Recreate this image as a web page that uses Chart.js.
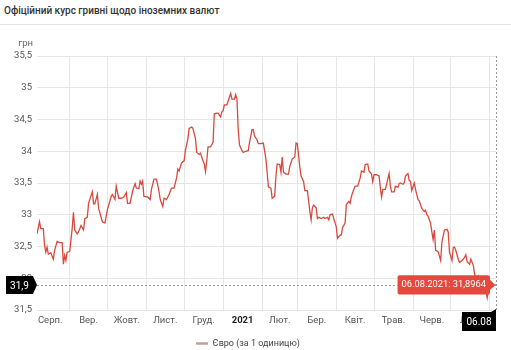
<!DOCTYPE html>
<html lang="uk">
<head>
<meta charset="utf-8">
<script src="https://cdn.jsdelivr.net/npm/chart.js@4.4.1/dist/chart.umd.min.js"></script>
<style>
  body { margin: 0; background: #fff; font-family: Roboto, sans-serif; }
  #titulo {
    height: 25px; box-sizing: border-box; padding: 5px 0 0 4px;
    font-size: 10px; font-weight: 500; color: #333;
    border-bottom: 1px solid #e2e2e2;
  }
  #titulo + div { width: 511px; height: 324px; }
</style>
</head>
<body>
<div id="titulo">Офіційний курс гривні щодо іноземних валют</div>
<div><canvas id="graficoEuro" width="511" height="324"></canvas></div>
<script>
// дати та курс євро (грн за 1 одиницю)
const datas = [
  '2020-08-06','2020-08-08','2020-08-09','2020-08-11','2020-08-12','2020-08-13','2020-08-14','2020-08-15','2020-08-17','2020-08-19','2020-08-20','2020-08-22','2020-08-24','2020-08-26','2020-08-27','2020-08-28','2020-08-29','2020-08-30',
  '2020-09-01','2020-09-03','2020-09-04','2020-09-05','2020-09-07','2020-09-08','2020-09-10','2020-09-12','2020-09-13','2020-09-15','2020-09-16','2020-09-19','2020-09-20','2020-09-21','2020-09-23','2020-09-24','2020-09-27','2020-09-29',
  '2020-10-01','2020-10-04','2020-10-05','2020-10-07','2020-10-08','2020-10-10','2020-10-12','2020-10-14','2020-10-16','2020-10-17','2020-10-19','2020-10-21','2020-10-23','2020-10-24','2020-10-26','2020-10-27','2020-10-28','2020-10-29','2020-10-30',
  '2020-11-02','2020-11-04','2020-11-05','2020-11-07','2020-11-09','2020-11-11','2020-11-12','2020-11-14','2020-11-15','2020-11-17','2020-11-19','2020-11-20','2020-11-21','2020-11-23','2020-11-25','2020-11-26','2020-11-27','2020-11-29',
  '2020-12-01','2020-12-02','2020-12-04','2020-12-05','2020-12-07','2020-12-08','2020-12-10','2020-12-11','2020-12-13','2020-12-14','2020-12-16','2020-12-17','2020-12-18','2020-12-19','2020-12-20','2020-12-22','2020-12-24','2020-12-25','2020-12-27','2020-12-28','2020-12-30','2020-12-31',
  '2021-01-01','2021-01-02','2021-01-04','2021-01-07','2021-01-08','2021-01-10','2021-01-11','2021-01-12','2021-01-13','2021-01-14','2021-01-16','2021-01-17','2021-01-19','2021-01-21','2021-01-22','2021-01-24','2021-01-25','2021-01-26','2021-01-28','2021-01-29','2021-01-31',
  '2021-02-02','2021-02-04','2021-02-05','2021-02-06','2021-02-08','2021-02-09','2021-02-11','2021-02-12','2021-02-13','2021-02-15','2021-02-16','2021-02-17','2021-02-18','2021-02-20','2021-02-22','2021-02-23','2021-02-25','2021-02-27','2021-02-28',
  '2021-03-01','2021-03-03','2021-03-04','2021-03-06','2021-03-07','2021-03-09','2021-03-11','2021-03-12','2021-03-13','2021-03-14','2021-03-16','2021-03-17','2021-03-18','2021-03-20','2021-03-22','2021-03-23','2021-03-25','2021-03-26','2021-03-27','2021-03-29','2021-03-30',
  '2021-04-01','2021-04-02','2021-04-04','2021-04-05','2021-04-06','2021-04-08','2021-04-09','2021-04-11','2021-04-12','2021-04-13','2021-04-15','2021-04-16','2021-04-18','2021-04-20','2021-04-21','2021-04-23','2021-04-24','2021-04-26','2021-04-27','2021-04-29','2021-04-30',
  '2021-05-01','2021-05-03','2021-05-05','2021-05-06','2021-05-07','2021-05-08','2021-05-10','2021-05-11','2021-05-13','2021-05-14','2021-05-15','2021-05-17','2021-05-18','2021-05-20','2021-05-21','2021-05-22','2021-05-24','2021-05-25','2021-05-26','2021-05-28','2021-05-29','2021-05-30','2021-05-31',
  '2021-06-02','2021-06-03','2021-06-05','2021-06-06','2021-06-08','2021-06-10','2021-06-11','2021-06-12','2021-06-13','2021-06-15','2021-06-16','2021-06-17','2021-06-18','2021-06-19','2021-06-21','2021-06-23','2021-06-24','2021-06-26','2021-06-28','2021-06-29','2021-06-30',
  '2021-07-02','2021-07-03','2021-07-04','2021-07-05','2021-07-07','2021-07-08','2021-07-10','2021-07-12','2021-07-13','2021-07-14','2021-07-16','2021-07-17','2021-07-19','2021-07-20','2021-07-22','2021-07-23','2021-07-24','2021-07-26','2021-07-27','2021-07-29','2021-07-30','2021-07-31',
  '2021-08-02','2021-08-04','2021-08-06'
];

const euro = [
  32.70, 32.89, 32.78, 32.78, 32.52, 32.41, 32.49, 32.38, 32.40, 32.30, 32.44, 32.58, 32.56, 32.56, 32.22, 32.36, 32.28, 32.41,
  32.42, 32.79, 33.04, 32.76, 32.70, 32.73, 32.83, 32.76, 32.94, 32.96, 33.18, 33.36, 33.17, 33.17, 33.32, 33.10, 32.89, 32.87,
  33.08, 33.29, 33.32, 33.24, 33.45, 33.26, 33.26, 33.28, 33.35, 33.18, 33.18, 33.37, 33.49, 33.42, 33.41, 33.53, 33.48, 33.53, 33.29,
  33.28, 33.24, 33.40, 33.56, 33.56, 33.37, 33.24, 33.13, 33.26, 33.24, 33.32, 33.37, 33.42, 33.42, 33.58, 33.72, 33.69, 33.82,
  33.85, 34.01, 34.20, 34.36, 34.38, 34.36, 34.20, 33.98, 33.95, 33.97, 33.85, 33.80, 33.68, 33.85, 34.07, 34.07, 34.14, 34.59, 34.60, 34.60, 34.54, 34.62,
  34.64, 34.73, 34.73, 34.91, 34.82, 34.82, 34.89, 34.82, 34.35, 34.10, 34.01, 33.98, 34.00, 34.01, 34.14, 34.34, 34.34, 34.24, 34.18, 34.12, 34.12,
  34.13, 33.88, 33.67, 33.44, 33.42, 33.26, 33.29, 33.61, 33.80, 33.79, 33.67, 33.91, 33.67, 33.64, 33.64, 33.76, 33.88, 33.91, 34.13,
  34.12, 33.75, 33.61, 33.52, 33.38, 33.38, 33.05, 32.92, 33.11, 33.15, 33.11, 32.94, 32.96, 32.94, 32.96, 32.94, 32.96, 32.92, 33.00, 33.01, 32.94,
  32.81, 32.63, 32.68, 32.68, 32.80, 32.87, 33.16, 33.21, 33.18, 33.29, 33.40, 33.45, 33.45, 33.58, 33.69, 33.67, 33.79, 33.80, 33.69, 33.64, 33.52,
  33.63, 33.63, 33.61, 33.43, 33.28, 33.40, 33.40, 33.48, 33.65, 33.45, 33.36, 33.36, 33.45, 33.43, 33.49, 33.50, 33.48, 33.50, 33.61, 33.65, 33.54, 33.53, 33.38,
  33.50, 33.40, 33.24, 33.22, 33.10, 33.05, 33.07, 33.00, 32.98, 32.86, 32.73, 32.61, 32.76, 32.44, 32.42, 32.28, 32.57, 32.76, 32.77, 32.73, 32.41,
  32.28, 32.48, 32.49, 32.44, 32.30, 32.25, 32.28, 32.33, 32.37, 32.26, 32.22, 32.30, 32.20, 32.06, 32.01, 32.04, 31.98, 31.97, 31.95, 31.80, 31.69, 31.80,
  31.85, 31.88, 31.8964
];

// підписи місяців, починаючи з серпня 2020
const meses = ['Серп.', 'Вер.', 'Жовт.', 'Лист.', 'Груд.', '2021', 'Лют.', 'Бер.', 'Квіт.', 'Трав.', 'Черв.', 'Лип.'];

const yMin = 31.5, yMax = 35.5, yPasso = 0.5;

Chart.defaults.font.family = 'Roboto, sans-serif';

function dias(data) {
    return Date.UTC(+data.slice(0, 4), +data.slice(5, 7) - 1, +data.slice(8, 10)) / 864e5;
}

function virgula(valor) {
    return String(valor).replace('.', ',');
}

const pontos = datas.map((d, i) => ({ x: dias(d), y: euro[i] }));
const inicio = pontos[0].x;
const fim = pontos[pontos.length - 1].x;
const ultimo = pontos[pontos.length - 1];
const dataFinal = datas[datas.length - 1].split('-').reverse().join('.');

// лінії сітки на початку кожного місяця, підписи посередині
const linhasMes = [];
const rotulos = {};
meses.forEach((nome, i) => {
    const a = Date.UTC(2020, 7 + i, 1) / 864e5;
    const b = Date.UTC(2020, 8 + i, 1) / 864e5;
    if (b <= fim) linhasMes.push(b);
    rotulos[(a + b) / 2] = nome;
});

const rotuloDe = c => (c.tick ? rotulos[c.tick.value] : undefined);

const cursor = {
    id: 'cursor',
    afterDatasetsDraw(chart) {
        const { ctx, chartArea: a, scales: { x, y } } = chart;
        const px = Math.round(x.getPixelForValue(ultimo.x));
        const py = Math.round(y.getPixelForValue(ultimo.y));
        ctx.save();

        ctx.strokeStyle = '#9a9a9a';
        ctx.lineWidth = 1;
        ctx.setLineDash([2, 2]);
        ctx.beginPath();
        ctx.moveTo(a.left, py + 0.5);
        ctx.lineTo(px, py + 0.5);
        ctx.moveTo(px + 0.5, a.top);
        ctx.lineTo(px + 0.5, a.bottom);
        ctx.stroke();
        ctx.setLineDash([]);

        ctx.fillStyle = '#000';
        ctx.beginPath();
        ctx.moveTo(6, py - 9);
        ctx.lineTo(a.left - 4, py - 9);
        ctx.lineTo(a.left, py);
        ctx.lineTo(a.left - 4, py + 9);
        ctx.lineTo(6, py + 9);
        ctx.closePath();
        ctx.fill();

        const topo = a.bottom + 2;
        ctx.beginPath();
        ctx.moveTo(px - 34, topo);
        ctx.lineTo(px - 5, topo);
        ctx.lineTo(px, topo - 3);
        ctx.lineTo(px, topo + 19);
        ctx.lineTo(px - 34, topo + 19);
        ctx.closePath();
        ctx.fill();

        ctx.fillStyle = '#fff';
        ctx.font = '10px Roboto, sans-serif';
        ctx.textAlign = 'center';
        ctx.textBaseline = 'middle';
        ctx.fillText(virgula(ultimo.y.toFixed(1)), 6 + (a.left - 10) / 2, py + 1);
        ctx.fillText(dataFinal.slice(0, 5), px - 17, topo + 10);

        ctx.fillStyle = '#666';
        ctx.font = '9.5px Roboto, sans-serif';
        ctx.textAlign = 'right';
        ctx.fillText('грн', a.left - 4, a.top - 12);
        ctx.restore();
    }
};

const graficoEuro = new Chart(document.querySelector('#graficoEuro'), {
    type: 'line',
    data: {
        datasets: [
            {
                label: 'Євро (за 1 одиницю)',
                data: pontos,
                borderColor: '#d9483d',
                borderWidth: 1.3,
                pointRadius: 0,
                pointHoverRadius: 0,
                tension: 0
            }
        ]
    },
    options: {
        responsive: false,
        animation: false,
        events: [],
        layout: { padding: { top: 31, right: 15, left: 0, bottom: -9 } },
        scales: {
            x: {
                type: 'linear',
                min: inicio,
                max: fim,
                afterBuildTicks: s => {
                    s.ticks = linhasMes.concat(Object.keys(rotulos).map(Number))
                        .sort((p, q) => p - q)
                        .map(v => ({ value: v }));
                },
                afterFit: s => { s.height = 27; },
                grid: {
                    color: c => (c.tick && linhasMes.includes(c.tick.value)) ? '#e6e6e6' : 'transparent',
                    drawTicks: false
                },
                border: { display: false },
                ticks: {
                    autoSkip: false,
                    maxRotation: 0,
                    padding: 5,
                    color: c => rotuloDe(c) === '2021' ? '#222' : '#555',
                    font: c => ({ size: 9.5, weight: rotuloDe(c) === '2021' ? 'bold' : 'normal' }),
                    callback: v => rotulos[v] || ''
                }
            },
            y: {
                min: yMin,
                max: yMax,
                afterFit: s => { s.width = 37; },
                grid: { color: '#e6e6e6', drawTicks: false },
                border: { display: false },
                ticks: {
                    stepSize: yPasso,
                    padding: 5,
                    color: '#555',
                    font: { size: 9.5 },
                    callback: v => virgula(v)
                }
            }
        },
        plugins: {
            legend: {
                position: 'bottom',
                labels: {
                    padding: 2,
                    color: '#444',
                    font: { size: 9 },
                    usePointStyle: true,
                    pointStyleWidth: 12,
                    generateLabels: chart => chart.data.datasets.map((ds, i) => ({
                        text: ds.label,
                        strokeStyle: '#c79c9c',
                        fillStyle: '#c79c9c',
                        lineWidth: 2.5,
                        pointStyle: 'line',
                        fontColor: '#444',
                        hidden: false,
                        datasetIndex: i
                    }))
                }
            },
            tooltip: {
                backgroundColor: '#e5493e',
                bodyColor: '#fff',
                bodyFont: { size: 9.3 },
                displayColors: false,
                xAlign: 'right',
                yAlign: 'center',
                caretSize: 5,
                caretPadding: 1,
                cornerRadius: 2,
                padding: { x: 4, y: 4 },
                callbacks: {
                    title: () => '',
                    label: c => dataFinal + ': ' + virgula(c.raw.y)
                }
            }
        }
    },
    plugins: [cursor]
});

// підказка для останнього значення
const area = graficoEuro.chartArea;
graficoEuro.tooltip.setActiveElements(
    [{ datasetIndex: 0, index: pontos.length - 1 }],
    { x: area.right, y: graficoEuro.scales.y.getPixelForValue(ultimo.y) }
);
graficoEuro.update();
</script>
</body>
</html>
